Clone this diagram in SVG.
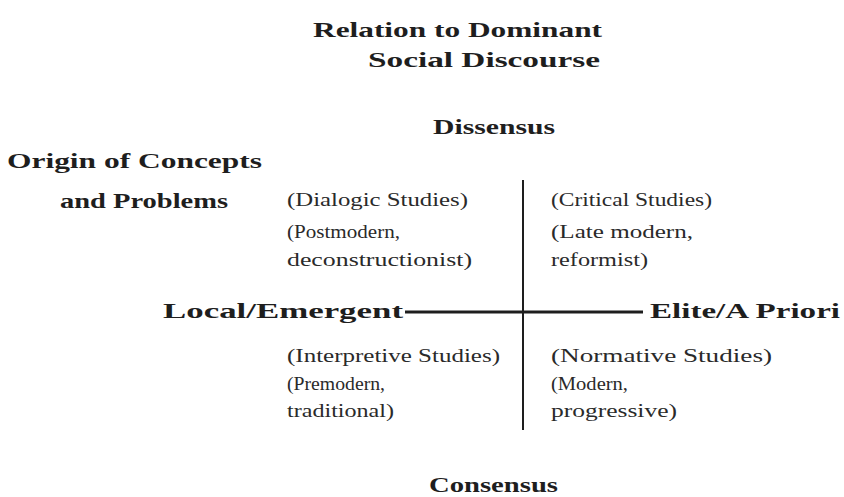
<svg xmlns="http://www.w3.org/2000/svg" width="844" height="497" viewBox="0 0 844 497">
<style>
.b{font-family:"Liberation Serif","Times New Roman",serif;font-weight:bold;font-size:21px;fill:#1e1e1e}
.r{font-family:"Liberation Serif","Times New Roman",serif;font-size:19px;fill:#2a2a2a}
.ax{stroke:#1e1e1e;fill:none}
</style>
<rect width="844" height="497" fill="#fff"/>
<g id="title">
<text class="b" x="313" y="37" textLength="289" lengthAdjust="spacingAndGlyphs">Relation to Dominant</text>
<text class="b" x="368" y="67" textLength="232" lengthAdjust="spacingAndGlyphs">Social Discourse</text>
</g>
<g id="dissensus"><text class="b" x="433" y="134" textLength="122" lengthAdjust="spacingAndGlyphs">Dissensus</text></g>
<g id="origin">
<text class="b" x="7" y="168" textLength="255" lengthAdjust="spacingAndGlyphs">Origin of Concepts</text>
<text class="b" x="60" y="208" textLength="168" lengthAdjust="spacingAndGlyphs">and Problems</text>
</g>
<g id="local"><text class="b" x="163" y="318" textLength="240" lengthAdjust="spacingAndGlyphs">Local/Emergent</text></g>
<g id="elite"><text class="b" x="650" y="318" textLength="190" lengthAdjust="spacingAndGlyphs">Elite/A Priori</text></g>
<g id="consensus"><text class="b" x="429" y="492" textLength="129" lengthAdjust="spacingAndGlyphs">Consensus</text></g>
<g id="dialogic">
<text class="r" x="287" y="206" textLength="181" lengthAdjust="spacingAndGlyphs">(Dialogic Studies)</text>
<text class="r" x="287" y="238" textLength="113" lengthAdjust="spacingAndGlyphs">(Postmodern,</text>
<text class="r" x="287" y="266" textLength="185" lengthAdjust="spacingAndGlyphs">deconstructionist)</text>
</g>
<g id="critical">
<text class="r" x="551" y="206" textLength="161" lengthAdjust="spacingAndGlyphs">(Critical Studies)</text>
<text class="r" x="551" y="238" textLength="142" lengthAdjust="spacingAndGlyphs">(Late modern,</text>
<text class="r" x="551" y="266" textLength="97" lengthAdjust="spacingAndGlyphs">reformist)</text>
</g>
<g id="interpretive">
<text class="r" x="287" y="362" textLength="213" lengthAdjust="spacingAndGlyphs">(Interpretive Studies)</text>
<text class="r" x="287" y="390" textLength="98" lengthAdjust="spacingAndGlyphs">(Premodern,</text>
<text class="r" x="287" y="417" textLength="107" lengthAdjust="spacingAndGlyphs">traditional)</text>
</g>
<g id="normative">
<text class="r" x="551" y="362" textLength="221" lengthAdjust="spacingAndGlyphs">(Normative Studies)</text>
<text class="r" x="551" y="390" textLength="77" lengthAdjust="spacingAndGlyphs">(Modern,</text>
<text class="r" x="551" y="417" textLength="126" lengthAdjust="spacingAndGlyphs">progressive)</text>
</g>
<g id="connectors">
<line class="ax" x1="523" y1="180" x2="523" y2="430" stroke-width="2"/>
<line class="ax" x1="405" y1="312" x2="643" y2="312" stroke-width="3"/>
</g>
</svg>
